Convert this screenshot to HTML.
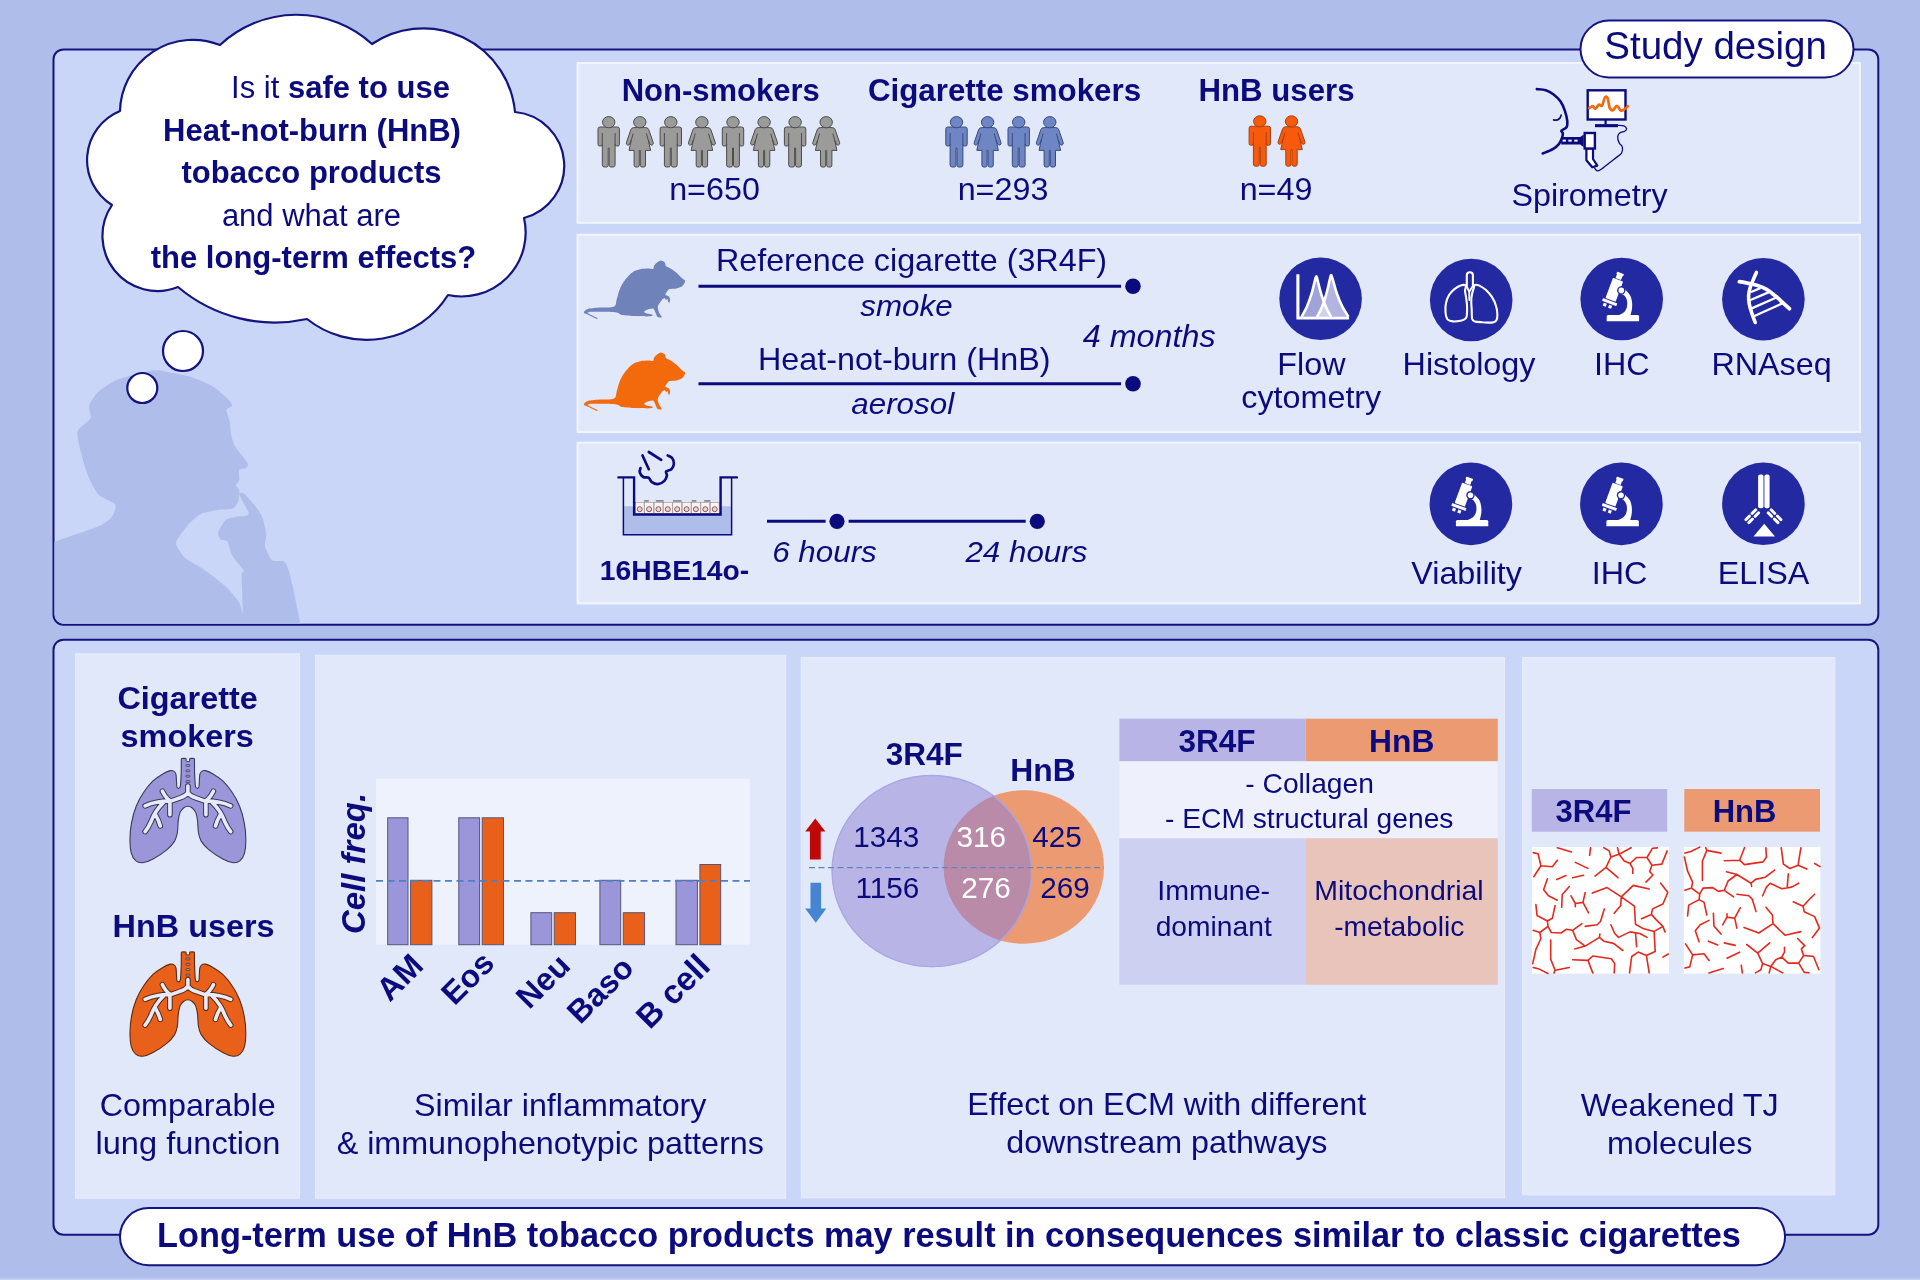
<!DOCTYPE html>
<html><head><meta charset="utf-8"><title>Graphical abstract</title>
<style>
html,body{margin:0;padding:0;background:#aebdea;}
body{width:1920px;height:1280px;overflow:hidden;font-family:"Liberation Sans",sans-serif;}
svg{display:block;will-change:transform;font-family:"Liberation Sans",sans-serif;}
</style></head><body>
<svg width="1920" height="1280" viewBox="0 0 1920 1280">
<rect x="0" y="0" width="1920" height="1280" fill="#aebdea"/>
<rect x="0" y="1278.3" width="1920" height="1.7" fill="#c2cff3"/>
<rect x="53.5" y="49.4" width="1824.8" height="575.3" rx="10" fill="#c9d6f7" stroke="#14147f" stroke-width="2"/>
<rect x="53.5" y="639.7" width="1824.8" height="595" rx="10" fill="#c9d6f7" stroke="#14147f" stroke-width="2"/>
<defs><clipPath id="cp"><rect x="54.5" y="50.4" width="1822.8" height="573.3" rx="9"/></clipPath></defs>
<path d="M40,644.7 C9.1,633.2 38.2,558.3 40,546.3 C41.8,534.2 51.1,543 55.2,541.6 C59.3,540.2 69.8,536.5 75.2,534.6 C80.5,532.6 96.6,527.4 100.9,525.2 C105.3,523 111,518.3 112.7,515.8 C114.3,513.3 116.7,506.5 115,504.1 C113.4,501.6 101.7,498 98.6,494.7 C95.5,491.4 90.1,480.9 88.1,476 C86,471 82.3,457.7 81,452.5 C79.8,447.3 76.4,435.4 77.5,431.4 C78.6,427.5 89,421.5 90.4,418.5 C91.8,415.5 88.3,408.8 89.2,405.6 C90.2,402.5 95.3,394.6 98.6,391.6 C101.9,388.6 111.1,382.3 117.4,379.8 C123.6,377.4 146.2,371.3 152.5,370.5 C158.8,369.7 166.6,372 171.3,372.8 C175.9,373.6 187.4,375.9 192.4,377.5 C197.3,379.1 209.4,384.4 213.5,386.9 C217.6,389.3 225.3,396.4 227.5,398.6 C229.7,400.8 232.4,404.3 232.2,405.6 C232.1,407 226.6,408.4 226.4,410.3 C226.1,412.2 229.3,419.3 229.9,422 C230.4,424.8 230.5,431 231,433.8 C231.6,436.5 232.6,442.1 234.6,445.5 C236.5,448.9 246.1,460.5 247.5,463.1 C248.8,465.7 247.2,466.9 246.3,467.8 C245.3,468.6 240.1,468.6 239.2,470.1 C238.4,471.6 239.7,478.9 239.2,480.6 C238.8,482.4 235.7,484.2 235.7,485.3 C235.7,486.4 239,488.1 239.2,490 C239.5,491.9 238.9,499.6 238.1,501.7 C237.3,503.9 234.5,507.8 232.2,508.8 C229.9,509.7 221.7,509.4 218.2,509.9 C214.6,510.5 205,512 201.7,513.5 C198.5,515 192.5,520.4 190,522.8 C187.6,525.3 182.3,532.1 180.6,534.6 C179,537 175.4,541.2 176,543.9 C176.5,546.7 182.1,555 185.3,558 C188.6,561 199.4,566.4 204.1,569.7 C208.7,573 221.1,582.3 225.2,586.1 C229.3,590 237.2,599.4 239.2,602.5 C241.3,605.7 242.5,616.4 242.8,613.1 C243,609.8 241.5,579.3 241.6,574.4 C241.7,569.5 245,573.1 243.9,570.9 C242.8,568.7 234.1,559.1 232.2,555.7 C230.3,552.2 228.9,543.5 227.5,541.6 C226.2,539.7 221.6,540.3 220.5,539.2 C219.4,538.2 217.6,534.4 218.2,532.2 C218.7,530 223.3,522.3 225.2,520.5 C227.1,518.7 232.1,517.5 234.6,517 C237,516.4 244.6,516.4 246.3,515.8 C247.9,515.3 249.2,514.2 248.6,512.3 C248.1,510.4 242.7,501.6 241.6,499.4 C240.5,497.2 239,494.2 239.2,493.5 C239.5,492.9 242,492 243.9,493.5 C245.9,495 253.5,503.6 255.7,506.4 C257.8,509.3 261.5,514.9 262.7,518.2 C263.9,521.4 265.9,531.3 266.2,534.6 C266.5,537.8 264.4,543.3 265,546.3 C265.7,549.3 269.9,558.6 272.1,560.3 C274.3,562.1 281.9,560.4 283.8,561.5 C285.7,562.6 287.4,566.6 288.5,569.7 C289.6,572.9 291.8,582.3 293.2,588.5 C294.5,594.6 298.8,615.9 300.2,622.5 C301.6,629 335.2,642.1 304.9,644.7 C274.5,647.3 70.9,656.2 40,644.7Z" fill="#aebdea" clip-path="url(#cp)"/>
<rect x="577.6" y="63" width="1282.4" height="159.8" fill="#e1e8fa" stroke="#f2f5fe" stroke-width="2"/>
<rect x="577.6" y="234.7" width="1282.4" height="197.3" fill="#e1e8fa" stroke="#f2f5fe" stroke-width="2"/>
<rect x="577.6" y="442.6" width="1282.4" height="160.8" fill="#e1e8fa" stroke="#f2f5fe" stroke-width="2"/>
<path d="M220,45 A112,112 0 0 1 372,44 A92,92 0 0 1 515,112 A54,54 0 0 1 524,218 A64,64 0 0 1 448,295 A96,96 0 0 1 307,319 A150,150 0 0 1 178,287 A55,55 0 0 1 112,205 A53,53 0 0 1 120,111 A73,73 0 0 1 220,45Z" fill="#fff" stroke="#14147f" stroke-width="2.2" stroke-linejoin="round"/>
<circle cx="183" cy="351" r="20" fill="#fff" stroke="#14147f" stroke-width="2.2"/>
<circle cx="142.3" cy="388" r="15" fill="#fff" stroke="#14147f" stroke-width="2.2"/>
<text x="340.5" y="98" font-size="31" text-anchor="middle" fill="#0b0b7e">Is it <tspan font-weight="bold">safe to use</tspan></text>
<text x="312" y="140.5" font-size="31" font-weight="bold" font-style="normal" text-anchor="middle" fill="#0b0b7e" >Heat-not-burn (HnB)</text>
<text x="311.5" y="183" font-size="31" font-weight="bold" font-style="normal" text-anchor="middle" fill="#0b0b7e" >tobacco products</text>
<text x="311.5" y="225.5" font-size="31" font-weight="normal" font-style="normal" text-anchor="middle" fill="#0b0b7e" >and what are</text>
<text x="313.5" y="268" font-size="31" font-weight="bold" font-style="normal" text-anchor="middle" fill="#0b0b7e" >the long-term effects?</text>
<rect x="1580.5" y="20.5" width="273" height="57" rx="28.5" fill="#fff" stroke="#14147f" stroke-width="2"/>
<text x="1715.6" y="59.4" font-size="38.5" font-weight="normal" font-style="normal" text-anchor="middle" fill="#0b0b7e" >Study design</text>
<text x="720.7" y="101.3" font-size="31" font-weight="bold" font-style="normal" text-anchor="middle" fill="#0b0b7e" >Non-smokers</text>
<text x="1004.5" y="101.3" font-size="31.3" font-weight="bold" font-style="normal" text-anchor="middle" fill="#0b0b7e" >Cigarette smokers</text>
<text x="1276.5" y="101.3" font-size="31.2" font-weight="bold" font-style="normal" text-anchor="middle" fill="#0b0b7e" >HnB users</text>
<text transform="translate(714.5,199.5) scale(1.052,1)" font-size="30.7" font-weight="normal" font-style="normal" text-anchor="middle" fill="#0b0b7e" >n=650</text>
<text transform="translate(1003,199.5) scale(1.052,1)" font-size="30.7" font-weight="normal" font-style="normal" text-anchor="middle" fill="#0b0b7e" >n=293</text>
<text transform="translate(1276,199.5) scale(1.052,1)" font-size="30.7" font-weight="normal" font-style="normal" text-anchor="middle" fill="#0b0b7e" >n=49</text>
<text transform="translate(1589.5,206.3) scale(1.052,1)" font-size="30.7" font-weight="normal" font-style="normal" text-anchor="middle" fill="#0b0b7e" >Spirometry</text>
<text transform="translate(911.5,271) scale(1.052,1)" font-size="30.7" font-weight="normal" font-style="normal" text-anchor="middle" fill="#0b0b7e" >Reference cigarette (3R4F)</text>
<text transform="translate(906.5,316) scale(1.035,1)" font-size="30.3" font-weight="normal" font-style="italic" text-anchor="middle" fill="#0b0b7e" >smoke</text>
<text transform="translate(904.3,369.5) scale(1.052,1)" font-size="30.7" font-weight="normal" font-style="normal" text-anchor="middle" fill="#0b0b7e" >Heat-not-burn (HnB)</text>
<text transform="translate(902.7,414) scale(1.035,1)" font-size="30.3" font-weight="normal" font-style="italic" text-anchor="middle" fill="#0b0b7e" >aerosol</text>
<text transform="translate(1149.2,346.5) scale(1.052,1)" font-size="30.7" font-weight="normal" font-style="italic" text-anchor="middle" fill="#0b0b7e" >4 months</text>
<line x1="698.5" y1="286.3" x2="1121" y2="286.3" stroke="#0b0b7e" stroke-width="3"/>
<circle cx="1133" cy="286.3" r="7.8" fill="#0b0b7e"/>
<line x1="698.5" y1="383.7" x2="1121" y2="383.7" stroke="#0b0b7e" stroke-width="3"/>
<circle cx="1133" cy="383.7" r="7.8" fill="#0b0b7e"/>
<text transform="translate(1311.4,375) scale(1.052,1)" font-size="30.7" font-weight="normal" font-style="normal" text-anchor="middle" fill="#0b0b7e" >Flow</text>
<text transform="translate(1311.3,407.6) scale(1.052,1)" font-size="30.7" font-weight="normal" font-style="normal" text-anchor="middle" fill="#0b0b7e" >cytometry</text>
<text transform="translate(1469,375) scale(1.052,1)" font-size="30.7" font-weight="normal" font-style="normal" text-anchor="middle" fill="#0b0b7e" >Histology</text>
<text transform="translate(1621.8,375) scale(1.052,1)" font-size="30.7" font-weight="normal" font-style="normal" text-anchor="middle" fill="#0b0b7e" >IHC</text>
<text transform="translate(1771.5,375) scale(1.052,1)" font-size="30.7" font-weight="normal" font-style="normal" text-anchor="middle" fill="#0b0b7e" >RNAseq</text>
<text x="674.5" y="580" font-size="28.3" font-weight="bold" font-style="normal" text-anchor="middle" fill="#0b0b7e" >16HBE14o-</text>
<line x1="767" y1="521.3" x2="825.6" y2="521.3" stroke="#0b0b7e" stroke-width="3"/>
<line x1="848.6" y1="521.3" x2="1025.7" y2="521.3" stroke="#0b0b7e" stroke-width="3"/>
<circle cx="837" cy="521.3" r="7.6" fill="#0b0b7e"/>
<circle cx="1037.3" cy="521.3" r="7.6" fill="#0b0b7e"/>
<text transform="translate(824.5,561.6) scale(1.035,1)" font-size="30.3" font-weight="normal" font-style="italic" text-anchor="middle" fill="#0b0b7e" >6 hours</text>
<text transform="translate(1026.4,561.6) scale(1.035,1)" font-size="30.3" font-weight="normal" font-style="italic" text-anchor="middle" fill="#0b0b7e" >24 hours</text>
<text transform="translate(1466.6,583.6) scale(1.052,1)" font-size="30.7" font-weight="normal" font-style="normal" text-anchor="middle" fill="#0b0b7e" >Viability</text>
<text transform="translate(1619.6,583.6) scale(1.052,1)" font-size="30.7" font-weight="normal" font-style="normal" text-anchor="middle" fill="#0b0b7e" >IHC</text>
<text transform="translate(1763.5,583.6) scale(1.052,1)" font-size="30.7" font-weight="normal" font-style="normal" text-anchor="middle" fill="#0b0b7e" >ELISA</text>
<rect x="75.5" y="653.8" width="224" height="544.4" fill="#e1e8fa" stroke="#e8edfc" stroke-width="1"/>
<rect x="315.5" y="655.3" width="470.2" height="542.9" fill="#e1e8fa" stroke="#e8edfc" stroke-width="1"/>
<rect x="801.3" y="657.6" width="703.2" height="540.2" fill="#e1e8fa" stroke="#e8edfc" stroke-width="1"/>
<rect x="1522.6" y="657.6" width="312.3" height="537.3" fill="#e1e8fa" stroke="#e8edfc" stroke-width="1"/>
<text transform="translate(187.6,708.5) scale(1.042,1)" font-size="31.1" font-weight="bold" font-style="normal" text-anchor="middle" fill="#0b0b7e" >Cigarette</text>
<text transform="translate(187.2,746.8) scale(1.042,1)" font-size="31.1" font-weight="bold" font-style="normal" text-anchor="middle" fill="#0b0b7e" >smokers</text>
<text transform="translate(193.6,936.5) scale(1.042,1)" font-size="31.1" font-weight="bold" font-style="normal" text-anchor="middle" fill="#0b0b7e" >HnB users</text>
<text transform="translate(187.7,1116.2) scale(1.052,1)" font-size="30.7" font-weight="normal" font-style="normal" text-anchor="middle" fill="#0b0b7e" >Comparable</text>
<text transform="translate(187.9,1154.3) scale(1.062,1)" font-size="30.7" font-weight="normal" font-style="normal" text-anchor="middle" fill="#0b0b7e" >lung function</text>
<text transform="translate(560.3,1115.9) scale(1.052,1)" font-size="30.7" font-weight="normal" font-style="normal" text-anchor="middle" fill="#0b0b7e" >Similar inflammatory</text>
<text transform="translate(550.2,1154.4) scale(1.052,1)" font-size="30.7" font-weight="normal" font-style="normal" text-anchor="middle" fill="#0b0b7e" >&amp; immunophenotypic patterns</text>
<text transform="translate(1166.8,1114.8) scale(1.052,1)" font-size="30.7" font-weight="normal" font-style="normal" text-anchor="middle" fill="#0b0b7e" >Effect on ECM with different</text>
<text transform="translate(1166.8,1152.9) scale(1.052,1)" font-size="30.7" font-weight="normal" font-style="normal" text-anchor="middle" fill="#0b0b7e" >downstream pathways</text>
<text transform="translate(1679.7,1116.3) scale(1.052,1)" font-size="30.7" font-weight="normal" font-style="normal" text-anchor="middle" fill="#0b0b7e" >Weakened TJ</text>
<text transform="translate(1679.7,1154.4) scale(1.052,1)" font-size="30.7" font-weight="normal" font-style="normal" text-anchor="middle" fill="#0b0b7e" >molecules</text>
<rect x="376" y="778.7" width="373.7" height="166" fill="#eef2fd"/>
<rect x="387.7" y="817.8" width="20.3" height="126.9" fill="#9b95da" stroke="#55557a" stroke-width="1"/>
<rect x="410.6" y="880.3" width="21.3" height="64.4" fill="#e9601a" stroke="#55557a" stroke-width="1"/>
<rect x="458.8" y="817.8" width="20.8" height="126.9" fill="#9b95da" stroke="#55557a" stroke-width="1"/>
<rect x="482.2" y="817.8" width="21.3" height="126.9" fill="#e9601a" stroke="#55557a" stroke-width="1"/>
<rect x="530.9" y="912.7" width="20.8" height="32" fill="#9b95da" stroke="#55557a" stroke-width="1"/>
<rect x="554.2" y="912.7" width="21.3" height="32" fill="#e9601a" stroke="#55557a" stroke-width="1"/>
<rect x="599.9" y="880.3" width="20.8" height="64.4" fill="#9b95da" stroke="#55557a" stroke-width="1"/>
<rect x="623.3" y="912.7" width="21.3" height="32" fill="#e9601a" stroke="#55557a" stroke-width="1"/>
<rect x="676" y="880.3" width="21.4" height="64.4" fill="#9b95da" stroke="#55557a" stroke-width="1"/>
<rect x="699.9" y="864.5" width="20.8" height="80.2" fill="#e9601a" stroke="#55557a" stroke-width="1"/>
<line x1="376" y1="880.9" x2="750" y2="880.9" stroke="#4f7fc4" stroke-width="1.6" stroke-dasharray="7,4.5"/>
<text transform="translate(364.5,863.5) rotate(-90)" font-size="33" font-weight="bold" font-style="italic" text-anchor="middle" fill="#0b0b7e">Cell freq.</text>
<text transform="translate(425,967.5) rotate(-45)" font-size="32" font-weight="bold" text-anchor="end" fill="#0b0b7e">AM</text>
<text transform="translate(496,965) rotate(-45)" font-size="32" font-weight="bold" text-anchor="end" fill="#0b0b7e">Eos</text>
<text transform="translate(572,967.5) rotate(-45)" font-size="32" font-weight="bold" text-anchor="end" fill="#0b0b7e">Neu</text>
<text transform="translate(635.5,970) rotate(-45)" font-size="32" font-weight="bold" text-anchor="end" fill="#0b0b7e">Baso</text>
<text transform="translate(712,968) rotate(-45)" font-size="33" font-weight="bold" text-anchor="end" fill="#0b0b7e">B cell</text>
<defs><clipPath id="cv"><ellipse cx="931.8" cy="871.1" rx="100.2" ry="96.1"/></clipPath></defs>
<ellipse cx="1023.8" cy="867" rx="80.2" ry="76.8" fill="#ec9a72"/>
<ellipse cx="931.8" cy="871.1" rx="100.2" ry="96.1" fill="#b8b5e6"/>
<ellipse cx="1023.8" cy="867" rx="80.2" ry="76.8" fill="#ba8ba8" clip-path="url(#cv)"/>
<ellipse cx="931.8" cy="871.1" rx="99.7" ry="95.6" fill="none" stroke="#aaa6e3" stroke-width="1.3"/>
<line x1="809" y1="867.6" x2="1104" y2="867.6" stroke="#5b86c6" stroke-width="1.3" stroke-dasharray="6,3.5"/>
<text x="924.2" y="765.2" font-size="31.5" font-weight="bold" font-style="normal" text-anchor="middle" fill="#0b0b7e" >3R4F</text>
<text x="1043" y="780.9" font-size="31.8" font-weight="bold" font-style="normal" text-anchor="middle" fill="#0b0b7e" >HnB</text>
<text x="886.2" y="846.5" font-size="29.7" font-weight="normal" font-style="normal" text-anchor="middle" fill="#0b0b7e" >1343</text>
<text x="981.3" y="846.5" font-size="29.7" font-weight="normal" font-style="normal" text-anchor="middle" fill="#fff" >316</text>
<text x="1057" y="846.5" font-size="29.7" font-weight="normal" font-style="normal" text-anchor="middle" fill="#0b0b7e" >425</text>
<text x="887.3" y="898.1" font-size="29.7" font-weight="normal" font-style="normal" text-anchor="middle" fill="#0b0b7e" >1156</text>
<text x="986.1" y="898.1" font-size="29.7" font-weight="normal" font-style="normal" text-anchor="middle" fill="#fff" >276</text>
<text x="1065.1" y="898.1" font-size="29.7" font-weight="normal" font-style="normal" text-anchor="middle" fill="#0b0b7e" >269</text>
<path d="M815.3,818.4 L825.4,831.5 L820.7,831.5 L820.7,859.4 L809.9,859.4 L809.9,831.5 L805.2,831.5Z" fill="#c00808"/>
<path d="M815.8,922.8 L826.3,908.6 L821.1,908.6 L821.1,882.8 L810.5,882.8 L810.5,908.6 L805.2,908.6Z" fill="#4585d2"/>
<rect x="1119.4" y="718.7" width="186.3" height="42.7" fill="#b8b5e6"/>
<rect x="1305.7" y="718.7" width="192.1" height="42.7" fill="#ec9a72"/>
<rect x="1119.4" y="761.4" width="378.4" height="76.9" fill="#eef1fc"/>
<rect x="1119.4" y="838.3" width="186.3" height="146.4" fill="#cdd0f0"/>
<rect x="1305.7" y="838.3" width="192.1" height="146.4" fill="#e9c4ba"/>
<text x="1216.9" y="752" font-size="31.5" font-weight="bold" font-style="normal" text-anchor="middle" fill="#0b0b7e" >3R4F</text>
<text x="1401.8" y="752" font-size="31.8" font-weight="bold" font-style="normal" text-anchor="middle" fill="#0b0b7e" >HnB</text>
<text transform="translate(1309.6,793.3) scale(1.045,1)" font-size="27" font-weight="normal" font-style="normal" text-anchor="middle" fill="#0b0b7e" >- Collagen</text>
<text transform="translate(1309.2,827.7) scale(1.045,1)" font-size="27" font-weight="normal" font-style="normal" text-anchor="middle" fill="#0b0b7e" >- ECM structural genes</text>
<text transform="translate(1213.7,900.4) scale(1.06,1)" font-size="27" font-weight="normal" font-style="normal" text-anchor="middle" fill="#0b0b7e" >Immune-</text>
<text transform="translate(1213.7,935.5) scale(1.045,1)" font-size="27" font-weight="normal" font-style="normal" text-anchor="middle" fill="#0b0b7e" >dominant</text>
<text transform="translate(1399,900.4) scale(1.055,1)" font-size="27" font-weight="normal" font-style="normal" text-anchor="middle" fill="#0b0b7e" >Mitochondrial</text>
<text transform="translate(1399.2,935.5) scale(1.045,1)" font-size="27" font-weight="normal" font-style="normal" text-anchor="middle" fill="#0b0b7e" >-metabolic</text>
<rect x="1531.8" y="789" width="135.4" height="42.7" fill="#b8b5e6"/>
<rect x="1684.3" y="789" width="135.7" height="42.7" fill="#ec9a72"/>
<text x="1593.5" y="822" font-size="31" font-weight="bold" font-style="normal" text-anchor="middle" fill="#0b0b7e" >3R4F</text>
<text x="1744.5" y="822" font-size="31" font-weight="bold" font-style="normal" text-anchor="middle" fill="#0b0b7e" >HnB</text>
<rect x="1532" y="847" width="137" height="126.6" fill="#fff"/>
<rect x="1683.8" y="847" width="136.6" height="126.6" fill="#fff"/>
<path d="M1533.2,852.6 L1538.1,853.7 L1540.9,865.7 L1533.8,876.7 M1540.9,865.7 L1552.4,866.8 L1557.3,860.2 M1557.3,847.7 L1571.5,852 M1590.6,847.7 L1589.6,855.3 M1575.3,862.4 L1587.9,868.4 M1556.7,879.4 L1566,875.6 M1572.6,877.7 L1583.5,875.2 M1547.4,878.8 L1543.6,889.8 L1548.5,895.8 L1557.3,900.2 M1569.3,886.5 L1562.2,894.7 L1561.7,907.3 M1571,895.8 L1575.3,903.5 L1575.3,906.7 M1575.3,903.5 L1583,902.4 L1585.2,892.5 M1583,902.4 L1588.5,912.8 M1603.8,847.7 L1609.2,850.9 L1610.9,857 L1606,867.4 L1595,876.1 M1606,867.4 L1618,877.7 M1610.9,857 L1619.1,854.2 L1631.1,847.7 M1617.5,847.7 L1619.1,854.2 L1624,860.8 L1630,863.5 L1632.8,868.4 L1632.8,873.4 M1630,863.5 L1636.6,857.5 L1647,857.5 L1652.5,848.2 L1657.4,847.9 M1647,857.5 L1651.9,865.2 L1661.8,864.1 L1667.2,850.9 M1651.9,865.2 L1649.7,871.7 L1653,875 L1645.9,882.1 M1592.3,893.1 L1607.1,887.6 L1621.3,896.9 L1633.3,885.4 L1649.2,889 M1621.3,896.9 L1620.7,905.6 L1614.2,913.3 M1660.7,883.2 L1667.8,892.5 L1662.9,904 L1652.5,908.9 L1651.4,914.4 L1641.5,918.8 M1651.4,914.4 L1656.3,919.9 L1662.9,926.4 M1655.2,951.6 L1646.4,955.4 L1638.2,952.1 L1631.7,956.5 L1629.5,972.9 M1646.4,955.4 L1649.2,972.9 M1535.9,904.6 L1537,915.5 L1547.4,921 L1552.4,918.2 L1555.1,905.6 M1547.4,921 L1548,926.4 L1551.3,932.5 L1561.1,933 L1566.6,929.2 L1572.6,930.3 L1581.9,923.7 M1572.6,930.3 L1576.4,939.6 L1585.2,946.1 L1574.8,948.9 M1585.2,946.1 L1599.4,937.4 L1599.9,934.1 M1599.4,937.4 L1603.8,941.2 L1613.6,943.4 L1622.9,950.5 M1548,926.4 L1539.8,932.5 L1533.2,930.3 M1539.8,932.5 L1540.9,938.5 L1535.9,949.4 L1532.7,963.6 M1550.7,940.1 L1550.7,959.3 L1555.1,970.2 L1569.3,967.5 M1555.1,970.2 L1554,972.9 M1533.2,967.5 L1539.2,969.1 L1548,973.5 M1572.6,959.8 L1587.9,960.4 L1592.8,956 L1611.4,958.7 L1614.7,963.6 L1614.2,972.9 M1587.9,960.4 L1592.8,972.9 M1585.2,926.4 L1597.2,924.8 L1600.5,921.5 L1604.3,909.1 M1610.9,924.8 L1614.7,933.5 L1618.5,937.4 L1630,931.9 L1639.9,933.5 L1647,937.4 M1635.5,933 L1636.6,946.7 M1662.9,957.1 L1668.3,954 M1621.3,896.9 L1634.4,906.2 L1635.5,924.2 L1643.2,928.6 L1654.1,931.4 L1662.9,926.4 L1665,931.9 M1654.1,931.4 L1655.2,951.6" fill="none" stroke="#e5281d" stroke-width="1.6" stroke-linecap="round" stroke-linejoin="round"/>
<path d="M1533.2,852.6 L1538.1,853.7 L1540.9,865.7 L1533.8,876.7 M1540.9,865.7 L1552.4,866.8 L1557.3,860.2 M1557.3,847.7 L1571.5,852 M1590.6,847.7 L1589.6,855.3 M1575.3,862.4 L1587.9,868.4 M1556.7,879.4 L1566,875.6 M1572.6,877.7 L1583.5,875.2 M1547.4,878.8 L1543.6,889.8 L1548.5,895.8 L1557.3,900.2 M1569.3,886.5 L1562.2,894.7 L1561.7,907.3 M1571,895.8 L1575.3,903.5 L1575.3,906.7 M1575.3,903.5 L1583,902.4 L1585.2,892.5 M1583,902.4 L1588.5,912.8 M1603.8,847.7 L1609.2,850.9 L1610.9,857 L1606,867.4 L1595,876.1 M1606,867.4 L1618,877.7 M1610.9,857 L1619.1,854.2 L1631.1,847.7 M1617.5,847.7 L1619.1,854.2 L1624,860.8 L1630,863.5 L1632.8,868.4 L1632.8,873.4 M1630,863.5 L1636.6,857.5 L1647,857.5 L1652.5,848.2 L1657.4,847.9 M1647,857.5 L1651.9,865.2 L1661.8,864.1 L1667.2,850.9 M1651.9,865.2 L1649.7,871.7 L1653,875 L1645.9,882.1 M1592.3,893.1 L1607.1,887.6 L1621.3,896.9 L1633.3,885.4 L1649.2,889 M1621.3,896.9 L1620.7,905.6 L1614.2,913.3 M1660.7,883.2 L1667.8,892.5 L1662.9,904 L1652.5,908.9 L1651.4,914.4 L1641.5,918.8 M1651.4,914.4 L1656.3,919.9 L1662.9,926.4 M1655.2,951.6 L1646.4,955.4 L1638.2,952.1 L1631.7,956.5 L1629.5,972.9 M1646.4,955.4 L1649.2,972.9 M1535.9,904.6 L1537,915.5 L1547.4,921 L1552.4,918.2 L1555.1,905.6 M1547.4,921 L1548,926.4 L1551.3,932.5 L1561.1,933 L1566.6,929.2 L1572.6,930.3 L1581.9,923.7 M1572.6,930.3 L1576.4,939.6 L1585.2,946.1 L1574.8,948.9 M1585.2,946.1 L1599.4,937.4 L1599.9,934.1 M1599.4,937.4 L1603.8,941.2 L1613.6,943.4 L1622.9,950.5 M1548,926.4 L1539.8,932.5 L1533.2,930.3 M1539.8,932.5 L1540.9,938.5 L1535.9,949.4 L1532.7,963.6 M1550.7,940.1 L1550.7,959.3 L1555.1,970.2 L1569.3,967.5 M1555.1,970.2 L1554,972.9 M1533.2,967.5 L1539.2,969.1 L1548,973.5 M1572.6,959.8 L1587.9,960.4 L1592.8,956 L1611.4,958.7 L1614.7,963.6 L1614.2,972.9 M1587.9,960.4 L1592.8,972.9 M1585.2,926.4 L1597.2,924.8 L1600.5,921.5 L1604.3,909.1 M1610.9,924.8 L1614.7,933.5 L1618.5,937.4 L1630,931.9 L1639.9,933.5 L1647,937.4 M1635.5,933 L1636.6,946.7 M1662.9,957.1 L1668.3,954" fill="none" stroke="#e5281d" stroke-width="1.6" stroke-linecap="round" stroke-linejoin="round" transform="translate(151.7,1820.6) scale(1,-1)"/>
<rect x="120" y="1208.1" width="1665" height="57.1" rx="28.5" fill="#fff" stroke="#14147f" stroke-width="2"/>
<text x="949" y="1246.6" font-size="34.3" font-weight="bold" font-style="normal" text-anchor="middle" fill="#0b0b7e" >Long-term use of HnB tobacco products may result in consequences similar to classic cigarettes</text>
<g transform="translate(608.7,0)" fill="#9b9b99" stroke="#4d4d4d" stroke-width="1" stroke-linejoin="round"><path d="M-10.7,129 Q-10.7,127 -8.7,127 L8.7,127 Q10.7,127 10.7,129 L10.7,144.3 Q10.7,146 9.2,146 L7.8,146 Q6.4,146 6.4,144.5 L6.4,164.8 Q6.4,167 4.4,167 L2.2,167 Q0.5,167 0.5,165.3 L0.5,148 L-0.5,148 L-0.5,165.3 Q-0.5,167 -2.2,167 L-4.4,167 Q-6.4,167 -6.4,164.8 L-6.4,144.5 Q-6.4,146 -7.8,146 L-9.2,146 Q-10.7,146 -10.7,144.3Z M6.4,133 L6.4,145 M-6.4,133 L-6.4,145"/><ellipse cx="0" cy="122.2" rx="6.2" ry="5.6"/></g>
<g transform="translate(639.8,0)" fill="#9b9b99" stroke="#4d4d4d" stroke-width="1" stroke-linejoin="round"><path d="M-6,127.6 L6,127.6 Q8.2,127.6 9,129.8 L13.4,142.6 Q13.9,144.4 12.4,145 Q10.9,145.5 10.1,144 L8.4,139.8 L10.8,150.4 L5.7,150.4 L5.7,165 Q5.7,167 4,167 L2.2,167 Q0.5,167 0.5,165.3 L0.5,150.4 L-0.5,150.4 L-0.5,165.3 Q-0.5,167 -2.2,167 L-4,167 Q-5.7,167 -5.7,165 L-5.7,150.4 L-10.8,150.4 L-8.4,139.8 L-10.1,144 Q-10.9,145.5 -12.4,145 Q-13.9,144.4 -13.4,142.6 L-9,129.8 Q-8.2,127.6 -6,127.6Z M8.4,139.8 L6.6,133.5 M-8.4,139.8 L-6.6,133.5"/><ellipse cx="0" cy="122.2" rx="6.2" ry="5.6"/></g>
<g transform="translate(670.8,0)" fill="#9b9b99" stroke="#4d4d4d" stroke-width="1" stroke-linejoin="round"><path d="M-10.7,129 Q-10.7,127 -8.7,127 L8.7,127 Q10.7,127 10.7,129 L10.7,144.3 Q10.7,146 9.2,146 L7.8,146 Q6.4,146 6.4,144.5 L6.4,164.8 Q6.4,167 4.4,167 L2.2,167 Q0.5,167 0.5,165.3 L0.5,148 L-0.5,148 L-0.5,165.3 Q-0.5,167 -2.2,167 L-4.4,167 Q-6.4,167 -6.4,164.8 L-6.4,144.5 Q-6.4,146 -7.8,146 L-9.2,146 Q-10.7,146 -10.7,144.3Z M6.4,133 L6.4,145 M-6.4,133 L-6.4,145"/><ellipse cx="0" cy="122.2" rx="6.2" ry="5.6"/></g>
<g transform="translate(701.9,0)" fill="#9b9b99" stroke="#4d4d4d" stroke-width="1" stroke-linejoin="round"><path d="M-6,127.6 L6,127.6 Q8.2,127.6 9,129.8 L13.4,142.6 Q13.9,144.4 12.4,145 Q10.9,145.5 10.1,144 L8.4,139.8 L10.8,150.4 L5.7,150.4 L5.7,165 Q5.7,167 4,167 L2.2,167 Q0.5,167 0.5,165.3 L0.5,150.4 L-0.5,150.4 L-0.5,165.3 Q-0.5,167 -2.2,167 L-4,167 Q-5.7,167 -5.7,165 L-5.7,150.4 L-10.8,150.4 L-8.4,139.8 L-10.1,144 Q-10.9,145.5 -12.4,145 Q-13.9,144.4 -13.4,142.6 L-9,129.8 Q-8.2,127.6 -6,127.6Z M8.4,139.8 L6.6,133.5 M-8.4,139.8 L-6.6,133.5"/><ellipse cx="0" cy="122.2" rx="6.2" ry="5.6"/></g>
<g transform="translate(733,0)" fill="#9b9b99" stroke="#4d4d4d" stroke-width="1" stroke-linejoin="round"><path d="M-10.7,129 Q-10.7,127 -8.7,127 L8.7,127 Q10.7,127 10.7,129 L10.7,144.3 Q10.7,146 9.2,146 L7.8,146 Q6.4,146 6.4,144.5 L6.4,164.8 Q6.4,167 4.4,167 L2.2,167 Q0.5,167 0.5,165.3 L0.5,148 L-0.5,148 L-0.5,165.3 Q-0.5,167 -2.2,167 L-4.4,167 Q-6.4,167 -6.4,164.8 L-6.4,144.5 Q-6.4,146 -7.8,146 L-9.2,146 Q-10.7,146 -10.7,144.3Z M6.4,133 L6.4,145 M-6.4,133 L-6.4,145"/><ellipse cx="0" cy="122.2" rx="6.2" ry="5.6"/></g>
<g transform="translate(764.1,0)" fill="#9b9b99" stroke="#4d4d4d" stroke-width="1" stroke-linejoin="round"><path d="M-6,127.6 L6,127.6 Q8.2,127.6 9,129.8 L13.4,142.6 Q13.9,144.4 12.4,145 Q10.9,145.5 10.1,144 L8.4,139.8 L10.8,150.4 L5.7,150.4 L5.7,165 Q5.7,167 4,167 L2.2,167 Q0.5,167 0.5,165.3 L0.5,150.4 L-0.5,150.4 L-0.5,165.3 Q-0.5,167 -2.2,167 L-4,167 Q-5.7,167 -5.7,165 L-5.7,150.4 L-10.8,150.4 L-8.4,139.8 L-10.1,144 Q-10.9,145.5 -12.4,145 Q-13.9,144.4 -13.4,142.6 L-9,129.8 Q-8.2,127.6 -6,127.6Z M8.4,139.8 L6.6,133.5 M-8.4,139.8 L-6.6,133.5"/><ellipse cx="0" cy="122.2" rx="6.2" ry="5.6"/></g>
<g transform="translate(795.1,0)" fill="#9b9b99" stroke="#4d4d4d" stroke-width="1" stroke-linejoin="round"><path d="M-10.7,129 Q-10.7,127 -8.7,127 L8.7,127 Q10.7,127 10.7,129 L10.7,144.3 Q10.7,146 9.2,146 L7.8,146 Q6.4,146 6.4,144.5 L6.4,164.8 Q6.4,167 4.4,167 L2.2,167 Q0.5,167 0.5,165.3 L0.5,148 L-0.5,148 L-0.5,165.3 Q-0.5,167 -2.2,167 L-4.4,167 Q-6.4,167 -6.4,164.8 L-6.4,144.5 Q-6.4,146 -7.8,146 L-9.2,146 Q-10.7,146 -10.7,144.3Z M6.4,133 L6.4,145 M-6.4,133 L-6.4,145"/><ellipse cx="0" cy="122.2" rx="6.2" ry="5.6"/></g>
<g transform="translate(826.2,0)" fill="#9b9b99" stroke="#4d4d4d" stroke-width="1" stroke-linejoin="round"><path d="M-6,127.6 L6,127.6 Q8.2,127.6 9,129.8 L13.4,142.6 Q13.9,144.4 12.4,145 Q10.9,145.5 10.1,144 L8.4,139.8 L10.8,150.4 L5.7,150.4 L5.7,165 Q5.7,167 4,167 L2.2,167 Q0.5,167 0.5,165.3 L0.5,150.4 L-0.5,150.4 L-0.5,165.3 Q-0.5,167 -2.2,167 L-4,167 Q-5.7,167 -5.7,165 L-5.7,150.4 L-10.8,150.4 L-8.4,139.8 L-10.1,144 Q-10.9,145.5 -12.4,145 Q-13.9,144.4 -13.4,142.6 L-9,129.8 Q-8.2,127.6 -6,127.6Z M8.4,139.8 L6.6,133.5 M-8.4,139.8 L-6.6,133.5"/><ellipse cx="0" cy="122.2" rx="6.2" ry="5.6"/></g>
<g transform="translate(956.5,0)" fill="#6e86c3" stroke="#3a4a80" stroke-width="1" stroke-linejoin="round"><path d="M-10.7,129 Q-10.7,127 -8.7,127 L8.7,127 Q10.7,127 10.7,129 L10.7,144.3 Q10.7,146 9.2,146 L7.8,146 Q6.4,146 6.4,144.5 L6.4,164.8 Q6.4,167 4.4,167 L2.2,167 Q0.5,167 0.5,165.3 L0.5,148 L-0.5,148 L-0.5,165.3 Q-0.5,167 -2.2,167 L-4.4,167 Q-6.4,167 -6.4,164.8 L-6.4,144.5 Q-6.4,146 -7.8,146 L-9.2,146 Q-10.7,146 -10.7,144.3Z M6.4,133 L6.4,145 M-6.4,133 L-6.4,145"/><ellipse cx="0" cy="122.2" rx="6.2" ry="5.6"/></g>
<g transform="translate(987.6,0)" fill="#6e86c3" stroke="#3a4a80" stroke-width="1" stroke-linejoin="round"><path d="M-6,127.6 L6,127.6 Q8.2,127.6 9,129.8 L13.4,142.6 Q13.9,144.4 12.4,145 Q10.9,145.5 10.1,144 L8.4,139.8 L10.8,150.4 L5.7,150.4 L5.7,165 Q5.7,167 4,167 L2.2,167 Q0.5,167 0.5,165.3 L0.5,150.4 L-0.5,150.4 L-0.5,165.3 Q-0.5,167 -2.2,167 L-4,167 Q-5.7,167 -5.7,165 L-5.7,150.4 L-10.8,150.4 L-8.4,139.8 L-10.1,144 Q-10.9,145.5 -12.4,145 Q-13.9,144.4 -13.4,142.6 L-9,129.8 Q-8.2,127.6 -6,127.6Z M8.4,139.8 L6.6,133.5 M-8.4,139.8 L-6.6,133.5"/><ellipse cx="0" cy="122.2" rx="6.2" ry="5.6"/></g>
<g transform="translate(1018.7,0)" fill="#6e86c3" stroke="#3a4a80" stroke-width="1" stroke-linejoin="round"><path d="M-10.7,129 Q-10.7,127 -8.7,127 L8.7,127 Q10.7,127 10.7,129 L10.7,144.3 Q10.7,146 9.2,146 L7.8,146 Q6.4,146 6.4,144.5 L6.4,164.8 Q6.4,167 4.4,167 L2.2,167 Q0.5,167 0.5,165.3 L0.5,148 L-0.5,148 L-0.5,165.3 Q-0.5,167 -2.2,167 L-4.4,167 Q-6.4,167 -6.4,164.8 L-6.4,144.5 Q-6.4,146 -7.8,146 L-9.2,146 Q-10.7,146 -10.7,144.3Z M6.4,133 L6.4,145 M-6.4,133 L-6.4,145"/><ellipse cx="0" cy="122.2" rx="6.2" ry="5.6"/></g>
<g transform="translate(1049.8,0)" fill="#6e86c3" stroke="#3a4a80" stroke-width="1" stroke-linejoin="round"><path d="M-6,127.6 L6,127.6 Q8.2,127.6 9,129.8 L13.4,142.6 Q13.9,144.4 12.4,145 Q10.9,145.5 10.1,144 L8.4,139.8 L10.8,150.4 L5.7,150.4 L5.7,165 Q5.7,167 4,167 L2.2,167 Q0.5,167 0.5,165.3 L0.5,150.4 L-0.5,150.4 L-0.5,165.3 Q-0.5,167 -2.2,167 L-4,167 Q-5.7,167 -5.7,165 L-5.7,150.4 L-10.8,150.4 L-8.4,139.8 L-10.1,144 Q-10.9,145.5 -12.4,145 Q-13.9,144.4 -13.4,142.6 L-9,129.8 Q-8.2,127.6 -6,127.6Z M8.4,139.8 L6.6,133.5 M-8.4,139.8 L-6.6,133.5"/><ellipse cx="0" cy="122.2" rx="6.2" ry="5.6"/></g>
<g transform="translate(1259.8,-0.8)" fill="#f85a0d" stroke="#a8400c" stroke-width="1" stroke-linejoin="round"><path d="M-10.7,129 Q-10.7,127 -8.7,127 L8.7,127 Q10.7,127 10.7,129 L10.7,144.3 Q10.7,146 9.2,146 L7.8,146 Q6.4,146 6.4,144.5 L6.4,164.8 Q6.4,167 4.4,167 L2.2,167 Q0.5,167 0.5,165.3 L0.5,148 L-0.5,148 L-0.5,165.3 Q-0.5,167 -2.2,167 L-4.4,167 Q-6.4,167 -6.4,164.8 L-6.4,144.5 Q-6.4,146 -7.8,146 L-9.2,146 Q-10.7,146 -10.7,144.3Z M6.4,133 L6.4,145 M-6.4,133 L-6.4,145"/><ellipse cx="0" cy="122.2" rx="6.2" ry="5.6"/></g>
<g transform="translate(1291.5,-0.8)" fill="#f85a0d" stroke="#a8400c" stroke-width="1" stroke-linejoin="round"><path d="M-6,127.6 L6,127.6 Q8.2,127.6 9,129.8 L13.4,142.6 Q13.9,144.4 12.4,145 Q10.9,145.5 10.1,144 L8.4,139.8 L10.8,150.4 L5.7,150.4 L5.7,165 Q5.7,167 4,167 L2.2,167 Q0.5,167 0.5,165.3 L0.5,150.4 L-0.5,150.4 L-0.5,165.3 Q-0.5,167 -2.2,167 L-4,167 Q-5.7,167 -5.7,165 L-5.7,150.4 L-10.8,150.4 L-8.4,139.8 L-10.1,144 Q-10.9,145.5 -12.4,145 Q-13.9,144.4 -13.4,142.6 L-9,129.8 Q-8.2,127.6 -6,127.6Z M8.4,139.8 L6.6,133.5 M-8.4,139.8 L-6.6,133.5"/><ellipse cx="0" cy="122.2" rx="6.2" ry="5.6"/></g>
<path d="M597.1,318.7 C597.2,318.8 590.3,315.1 588.7,314.5 C587,313.8 585.4,313.8 584.8,313.5 C584.1,313.1 583.6,312.5 584,311.8 C584.4,311.2 585.7,309.5 588,308.9 C590.3,308.4 597.9,307.8 601,307.6 C604.2,307.4 609.5,307.6 611.5,307.3 C613.4,307 614.7,306.4 615.4,305.3 C616.1,304.3 616.1,301.5 616.7,299.5 C617.2,297.5 618.4,292.6 619.3,290.4 C620.1,288.1 622,284.5 623.2,282.6 C624.4,280.6 627,277.5 628.4,276 C629.8,274.6 632,272.4 633.6,271.5 C635.2,270.6 638.2,269.6 640.1,269.2 C642,268.8 646.2,268.6 647.9,268.6 C649.7,268.5 652.3,269.3 653.1,268.9 C653.9,268.5 653.6,266.5 654.1,265.6 C654.6,264.8 656.1,263.1 657,262.4 C657.9,261.7 659.9,260.4 660.9,260.4 C662,260.4 664.1,261.6 664.8,262.4 C665.5,263.2 665.3,265.4 666.1,266.3 C667,267.1 670,268 671.4,268.9 C672.7,269.7 675.2,271.6 676.6,272.8 C678,274 680.6,277 681.8,278 C682.9,279 684.7,279.9 685,280.6 C685.4,281.3 684.8,282.4 684.4,283.2 C683.9,284 682.8,285.8 681.8,286.5 C680.7,287.2 678.2,288.1 676.6,288.4 C674.9,288.8 670.8,288.5 669.4,289.1 C668,289.7 666.7,292.2 666.1,293 C665.6,293.8 665.1,294.5 665.5,294.9 C665.8,295.4 668.1,295.6 668.8,296.2 C669.4,296.8 670,298.6 670.1,299.5 C670.1,300.3 669.7,302.5 669.4,302.7 C669.1,303 668.4,302 668.1,301.4 C667.8,300.9 667.7,299 667.4,298.8 C667.2,298.7 666.5,300.2 666.1,300.1 C665.8,300 665.4,298.3 664.8,298.2 C664.3,298.1 663,298.7 662.2,299.5 C661.5,300.3 659.6,303 659,304 C658.4,305.1 657.7,306.2 657.7,307.3 C657.7,308.4 658.5,311.3 659,312.5 C659.5,313.7 661.3,315.8 661.6,316.4 C661.8,317.1 661.5,317.3 660.9,317.4 C660.4,317.5 658.4,317.6 657.7,317.1 C657,316.5 656.3,314.3 655.7,313.2 C655.1,312 654.3,309 653.1,308.6 C651.9,308.2 647.8,309.5 646.6,309.9 C645.4,310.3 644,311.4 644,311.8 C644,312.3 645.6,313.1 646.6,313.5 C647.7,313.8 651,314.1 651.8,314.5 C652.6,314.8 653.2,315.5 652.5,315.8 C651.8,316 649.1,316.4 646.6,316.4 C644.1,316.4 636.9,316.3 633.6,316.1 C630.3,315.9 624.1,315.6 621.9,315.1 C619.6,314.6 619.4,312.9 616.7,312.5 C613.9,312.1 604.6,311.9 601,311.8 C597.5,311.8 591.7,311.6 590,311.8 C588.2,312.1 587.1,312.6 588,313.5 C589,314.4 597,318.6 597.1,318.7Z" fill="#6f82ba"/>
<path d="M597.1,318.7 C597.2,318.8 590.3,315.1 588.7,314.5 C587,313.8 585.4,313.8 584.8,313.5 C584.1,313.1 583.6,312.5 584,311.8 C584.4,311.2 585.7,309.5 588,308.9 C590.3,308.4 597.9,307.8 601,307.6 C604.2,307.4 609.5,307.6 611.5,307.3 C613.4,307 614.7,306.4 615.4,305.3 C616.1,304.3 616.1,301.5 616.7,299.5 C617.2,297.5 618.4,292.6 619.3,290.4 C620.1,288.1 622,284.5 623.2,282.6 C624.4,280.6 627,277.5 628.4,276 C629.8,274.6 632,272.4 633.6,271.5 C635.2,270.6 638.2,269.6 640.1,269.2 C642,268.8 646.2,268.6 647.9,268.6 C649.7,268.5 652.3,269.3 653.1,268.9 C653.9,268.5 653.6,266.5 654.1,265.6 C654.6,264.8 656.1,263.1 657,262.4 C657.9,261.7 659.9,260.4 660.9,260.4 C662,260.4 664.1,261.6 664.8,262.4 C665.5,263.2 665.3,265.4 666.1,266.3 C667,267.1 670,268 671.4,268.9 C672.7,269.7 675.2,271.6 676.6,272.8 C678,274 680.6,277 681.8,278 C682.9,279 684.7,279.9 685,280.6 C685.4,281.3 684.8,282.4 684.4,283.2 C683.9,284 682.8,285.8 681.8,286.5 C680.7,287.2 678.2,288.1 676.6,288.4 C674.9,288.8 670.8,288.5 669.4,289.1 C668,289.7 666.7,292.2 666.1,293 C665.6,293.8 665.1,294.5 665.5,294.9 C665.8,295.4 668.1,295.6 668.8,296.2 C669.4,296.8 670,298.6 670.1,299.5 C670.1,300.3 669.7,302.5 669.4,302.7 C669.1,303 668.4,302 668.1,301.4 C667.8,300.9 667.7,299 667.4,298.8 C667.2,298.7 666.5,300.2 666.1,300.1 C665.8,300 665.4,298.3 664.8,298.2 C664.3,298.1 663,298.7 662.2,299.5 C661.5,300.3 659.6,303 659,304 C658.4,305.1 657.7,306.2 657.7,307.3 C657.7,308.4 658.5,311.3 659,312.5 C659.5,313.7 661.3,315.8 661.6,316.4 C661.8,317.1 661.5,317.3 660.9,317.4 C660.4,317.5 658.4,317.6 657.7,317.1 C657,316.5 656.3,314.3 655.7,313.2 C655.1,312 654.3,309 653.1,308.6 C651.9,308.2 647.8,309.5 646.6,309.9 C645.4,310.3 644,311.4 644,311.8 C644,312.3 645.6,313.1 646.6,313.5 C647.7,313.8 651,314.1 651.8,314.5 C652.6,314.8 653.2,315.5 652.5,315.8 C651.8,316 649.1,316.4 646.6,316.4 C644.1,316.4 636.9,316.3 633.6,316.1 C630.3,315.9 624.1,315.6 621.9,315.1 C619.6,314.6 619.4,312.9 616.7,312.5 C613.9,312.1 604.6,311.9 601,311.8 C597.5,311.8 591.7,311.6 590,311.8 C588.2,312.1 587.1,312.6 588,313.5 C589,314.4 597,318.6 597.1,318.7Z" fill="#f26a0c" transform="translate(0,92)"/>
<line x1="584.8" y1="312.6" x2="597.1" y2="318.5" stroke="#6f82ba" stroke-width="1.1" stroke-linecap="round"/>
<line x1="584.8" y1="404.6" x2="597.1" y2="410.5" stroke="#f26a0c" stroke-width="1.1" stroke-linecap="round"/>
<path d="M1536.8,89.1 C1538.3,89.3 1543,89.3 1545.8,90.2 C1548.6,91.1 1551.1,92.6 1553.6,94.5 C1556.1,96.4 1558.7,98.8 1560.6,101.6 C1562.5,104.3 1563.8,107.7 1564.9,110.9 C1566,114.2 1567,118.4 1567.3,121.1 C1567.5,123.8 1567.5,125.8 1566.5,127.3 C1565.5,128.9 1562,129.6 1561.4,130.6 C1560.8,131.6 1562.7,132.1 1562.8,133.2 C1562.9,134.3 1562.8,135.7 1562.2,137.5 C1561.6,139.3 1560.6,141.8 1559.1,143.8 C1557.5,145.7 1555.5,147.6 1552.8,149.2 C1550.1,150.8 1544.3,152.8 1542.7,153.5" fill="none" stroke="#0b0b7e" stroke-width="2.6" stroke-linecap="round" stroke-linejoin="round"/>
<path d="M1553.6,119.9 Q1559.8,121.2 1561.2,115" fill="none" stroke="#0b0b7e" stroke-width="1.6" stroke-linecap="round"/>
<path d="M1561.2,136.9 L1580.2,136.9 L1583.7,134.4 L1583.7,147.3 L1580.2,144.5 L1561.2,144.5Z" fill="#0b0b7e"/>
<rect x="1562.6" y="139.7" width="3.3" height="1.9" fill="#fff"/>
<rect x="1568.4" y="139.7" width="3.3" height="1.9" fill="#fff"/>
<rect x="1574.3" y="139.7" width="3.3" height="1.9" fill="#fff"/>
<path d="M1586.4,148.4 L1586.4,160.2 L1592.3,167.2 L1597.3,165.6 L1593,159 L1593,148.4Z" fill="#fff" stroke="#0b0b7e" stroke-width="2.2" stroke-linejoin="round"/>
<rect x="1584.7" y="133" width="10.2" height="15.5" fill="#fff" stroke="#0b0b7e" stroke-width="2.4"/>
<rect x="1587.7" y="90.3" width="37.8" height="29.2" fill="#fff" stroke="#0b0b7e" stroke-width="2.4"/>
<rect x="1604.5" y="119.5" width="2.2" height="5.1" fill="#0b0b7e"/>
<rect x="1595" y="124.1" width="23" height="3.1" fill="#0b0b7e"/>
<path d="M1589.1,108.2 C1589.7,107.9 1591.6,106.2 1592.7,106.2 C1593.7,106.3 1594.3,108.9 1595.4,108.6 C1596.4,108.3 1597.8,105.2 1598.9,104.7 C1600,104.2 1601.1,106.8 1602,105.6 C1603,104.5 1603.9,99 1604.8,97.7 C1605.7,96.4 1606.7,96.1 1607.5,97.8 C1608.3,99.6 1608.9,106.1 1609.8,108.2 C1610.8,110.3 1611.8,110.7 1613,110.3 C1614.1,109.9 1615.6,105.8 1616.9,105.9 C1618.2,105.9 1619.5,110 1620.8,110.5 C1622,111.1 1623.1,110.1 1624.3,109.4 C1625.5,108.7 1627.2,106.8 1627.8,106.2" fill="none" stroke="#f26a0c" stroke-width="2.7" stroke-linecap="round" stroke-linejoin="round"/>
<path d="M1617.7,125.4 C1618.7,125.5 1622.4,125.2 1623.9,125.8 C1625.4,126.4 1626.5,128 1626.6,128.9 C1626.8,129.8 1625.8,130.6 1624.7,131.2 C1623.6,131.9 1621.2,131.9 1620,132.8 C1618.8,133.7 1617.8,135 1617.7,136.7 C1617.5,138.4 1618.4,141.3 1619.2,143 C1620,144.7 1622,145.2 1622.3,146.9 C1622.7,148.6 1623,151 1621.6,153.1 C1620.1,155.2 1617,156.8 1613.8,159.4 C1610.5,162 1604.8,166.8 1602,168.8 C1599.3,170.7 1598.6,171.1 1597.3,170.9 C1596.1,170.8 1595.1,168.5 1594.6,168" fill="none" stroke="#0b0b7e" stroke-width="1.3" stroke-linecap="round"/>
<circle cx="1320.6" cy="298.8" r="41.3" fill="#2229a1"/>
<g transform="translate(1320.6,298.8)">
<path d="M-19.1,18 C-18.2,16.3 -15.3,11.5 -13.6,7.7 C-12,3.8 -10.3,-1.1 -9,-5.1 C-7.8,-9 -6.9,-13.5 -6.2,-16.2 C-5.5,-18.8 -5.3,-20 -5,-21 C-4.6,-22.1 -4.5,-22.4 -4.3,-22.4 C-4.1,-22.4 -4,-22.1 -3.6,-21 C-3.3,-20 -3,-18.8 -2.4,-16.2 C-1.7,-13.5 -0.8,-9 0.5,-5.1 C1.7,-1.1 3.4,3.8 5.1,7.7 C6.7,11.5 9.6,16.3 10.5,18Z" fill="#a0a3d7"/><path d="M-3.5,18 C-2.6,16.2 0.1,11.3 1.7,7.4 C3.3,3.4 4.9,-1.7 6,-5.8 C7.2,-9.9 8.1,-14.5 8.7,-17.2 C9.4,-20 9.6,-21.1 9.9,-22.2 C10.2,-23.3 10.3,-23.7 10.5,-23.7 C10.8,-23.7 11,-23.3 11.3,-22.2 C11.7,-21.1 12,-20 12.8,-17.2 C13.6,-14.5 14.7,-9.9 16.1,-5.8 C17.5,-1.7 19.5,3.4 21.5,7.4 C23.4,11.3 26.8,16.2 27.9,18Z" fill="#b3b5e0"/>
<defs><clipPath id="cpk"><path d="M-19.1,18 C-18.2,16.3 -15.3,11.5 -13.6,7.7 C-12,3.8 -10.3,-1.1 -9,-5.1 C-7.8,-9 -6.9,-13.5 -6.2,-16.2 C-5.5,-18.8 -5.3,-20 -5,-21 C-4.6,-22.1 -4.5,-22.4 -4.3,-22.4 C-4.1,-22.4 -4,-22.1 -3.6,-21 C-3.3,-20 -3,-18.8 -2.4,-16.2 C-1.7,-13.5 -0.8,-9 0.5,-5.1 C1.7,-1.1 3.4,3.8 5.1,7.7 C6.7,11.5 9.6,16.3 10.5,18Z"/></clipPath></defs>
<path d="M-3.5,18 C-2.6,16.2 0.1,11.3 1.7,7.4 C3.3,3.4 4.9,-1.7 6,-5.8 C7.2,-9.9 8.1,-14.5 8.7,-17.2 C9.4,-20 9.6,-21.1 9.9,-22.2 C10.2,-23.3 10.3,-23.7 10.5,-23.7 C10.8,-23.7 11,-23.3 11.3,-22.2 C11.7,-21.1 12,-20 12.8,-17.2 C13.6,-14.5 14.7,-9.9 16.1,-5.8 C17.5,-1.7 19.5,3.4 21.5,7.4 C23.4,11.3 26.8,16.2 27.9,18Z" fill="#d0d1eb" clip-path="url(#cpk)"/>
<path d="M-19.1,18 C-18.2,16.3 -15.3,11.5 -13.6,7.7 C-12,3.8 -10.3,-1.1 -9,-5.1 C-7.8,-9 -6.9,-13.5 -6.2,-16.2 C-5.5,-18.8 -5.3,-20 -5,-21 C-4.6,-22.1 -4.5,-22.4 -4.3,-22.4 C-4.1,-22.4 -4,-22.1 -3.6,-21 C-3.3,-20 -3,-18.8 -2.4,-16.2 C-1.7,-13.5 -0.8,-9 0.5,-5.1 C1.7,-1.1 3.4,3.8 5.1,7.7 C6.7,11.5 9.6,16.3 10.5,18" fill="none" stroke="#fff" stroke-width="2.6" stroke-linejoin="round"/><path d="M-3.5,18 C-2.6,16.2 0.1,11.3 1.7,7.4 C3.3,3.4 4.9,-1.7 6,-5.8 C7.2,-9.9 8.1,-14.5 8.7,-17.2 C9.4,-20 9.6,-21.1 9.9,-22.2 C10.2,-23.3 10.3,-23.7 10.5,-23.7 C10.8,-23.7 11,-23.3 11.3,-22.2 C11.7,-21.1 12,-20 12.8,-17.2 C13.6,-14.5 14.7,-9.9 16.1,-5.8 C17.5,-1.7 19.5,3.4 21.5,7.4 C23.4,11.3 26.8,16.2 27.9,18" fill="none" stroke="#fff" stroke-width="2.6" stroke-linejoin="round"/>
<path d="M-22.7,-24.6 L-22.7,19.15 L28.5,19.15" fill="none" stroke="#fff" stroke-width="3.1"/>
</g>
<circle cx="1471.2" cy="300" r="41.3" fill="#2229a1"/>
<g transform="translate(1471.2,300)" fill="none" stroke="#fff" stroke-width="2.1" stroke-linejoin="round" stroke-linecap="round">
<path d="M-5.2,-14.2 C-5.8,-15 -8,-15.2 -9.8,-14.7 C-11.5,-14.2 -14.9,-12.4 -16.8,-10.9 C-18.7,-9.4 -21,-6.8 -22.3,-4.7 C-23.5,-2.6 -24.7,0.5 -25.2,3.1 C-25.8,5.7 -25.9,10.1 -25.7,12.5 C-25.5,14.9 -24.8,18 -23.7,19.4 C-22.6,20.7 -20.3,21.2 -18.4,21.4 C-16.4,21.6 -12.4,21.1 -10.5,20.7 C-8.7,20.3 -6.8,19.6 -5.9,18.8 C-4.9,17.9 -4.5,17 -4.3,14.8 C-4.1,12.7 -4.1,7.4 -4.2,4.7 C-4.4,2 -4.9,-1 -5.2,-3.1 C-5.5,-5.2 -6.2,-7.7 -6.2,-9.4 C-6.2,-11 -4.7,-13.4 -5.2,-14.2Z"/>
<path d="M3.7,-15.1 C4.5,-15.4 6.6,-15.1 8.2,-14.4 C9.8,-13.6 12.6,-11.8 14.5,-10.2 C16.3,-8.5 19.1,-5.6 20.7,-3.1 C22.3,-0.7 24.1,3.6 24.9,6.2 C25.7,8.9 26.2,12.7 26.2,14.8 C26.2,17 25.8,19.5 25,20.6 C24.2,21.8 22.8,22.3 20.7,22.6 C18.7,22.8 13.9,22.4 11.3,22.3 C8.8,22.1 5.1,22 3.5,21.5 C2,21 1.4,20.6 0.9,18.8 C0.5,16.9 0.6,12.1 0.5,9.4 C0.3,6.7 0,3.1 0.1,0.8 C0.1,-1.6 0.5,-4.3 0.9,-6.2 C1.2,-8.2 2.2,-10.8 2.6,-12.1 C3,-13.4 2.8,-14.7 3.7,-15.1Z"/>
<path d="M-4.4,-14.5 L-4.4,-24.7 A3.05,3.05 0 0 1 1.7,-24.7 L1.7,-14.5"/>
<path d="M-4.3,-13.4 L-2,-8.2 L1.3,-13.4 M-2,-8.2 L-1.8,0" stroke-width="1.9"/>
</g>
<circle cx="1621.7" cy="299" r="41.3" fill="#2229a1"/>
<g transform="translate(1621.7,299)">
<path d="M2.4,-10.4 C3.4,-9.4 6.7,-6.4 8,-4.3 C9.3,-2.2 9.8,-0.3 10.2,2 C10.6,4.2 10.6,6.6 10.4,9 C10.2,11.4 9.1,15 8.8,16.2 L-3.2,16.2 C-2.2,15.6 1.2,14.3 2.6,12.9 C4,11.4 4.9,9.4 5.3,7.4 C5.7,5.5 5.6,3 5.2,1.2 C4.7,-0.6 3.7,-2.3 2.7,-3.4 C1.8,-4.4 -0.1,-4.8 -0.7,-5.1Z" fill="#fff"/>
<path d="M-15,22.3 L-15,17.6 Q-15,16.1 -13.5,16.1 L15.9,16.1 Q17.4,16.1 17.4,17.6 L17.4,22.3Z" fill="#fff"/>
<g transform="translate(-12,3.1) rotate(20.4)" fill="#fff">
<rect x="-7.6" y="-1.5" width="15.2" height="3" rx="0.6"/>
<rect x="-5.4" y="-24" width="10.8" height="21.6" rx="0.8"/>
<rect x="-2.9" y="-30.6" width="5.8" height="6"/>
<rect x="-3.6" y="-31.2" width="7.2" height="2.6" rx="0.6"/>
<rect x="-5.3" y="2.6" width="3.2" height="3.2"/>
<rect x="0.4" y="2.6" width="3.2" height="3.2"/>
</g>
<circle cx="-0.4" cy="-8.6" r="4.2" fill="#2229a1"/><circle cx="-0.4" cy="-8.6" r="2.8" fill="#fff"/>
</g>
<circle cx="1470.9" cy="503.9" r="41.3" fill="#2229a1"/>
<g transform="translate(1470.9,503.9)">
<path d="M2.4,-10.4 C3.4,-9.4 6.7,-6.4 8,-4.3 C9.3,-2.2 9.8,-0.3 10.2,2 C10.6,4.2 10.6,6.6 10.4,9 C10.2,11.4 9.1,15 8.8,16.2 L-3.2,16.2 C-2.2,15.6 1.2,14.3 2.6,12.9 C4,11.4 4.9,9.4 5.3,7.4 C5.7,5.5 5.6,3 5.2,1.2 C4.7,-0.6 3.7,-2.3 2.7,-3.4 C1.8,-4.4 -0.1,-4.8 -0.7,-5.1Z" fill="#fff"/>
<path d="M-15,22.3 L-15,17.6 Q-15,16.1 -13.5,16.1 L15.9,16.1 Q17.4,16.1 17.4,17.6 L17.4,22.3Z" fill="#fff"/>
<g transform="translate(-12,3.1) rotate(20.4)" fill="#fff">
<rect x="-7.6" y="-1.5" width="15.2" height="3" rx="0.6"/>
<rect x="-5.4" y="-24" width="10.8" height="21.6" rx="0.8"/>
<rect x="-2.9" y="-30.6" width="5.8" height="6"/>
<rect x="-3.6" y="-31.2" width="7.2" height="2.6" rx="0.6"/>
<rect x="-5.3" y="2.6" width="3.2" height="3.2"/>
<rect x="0.4" y="2.6" width="3.2" height="3.2"/>
</g>
<circle cx="-0.4" cy="-8.6" r="4.2" fill="#2229a1"/><circle cx="-0.4" cy="-8.6" r="2.8" fill="#fff"/>
</g>
<circle cx="1621.4" cy="503.9" r="41.3" fill="#2229a1"/>
<g transform="translate(1621.4,503.9)">
<path d="M2.4,-10.4 C3.4,-9.4 6.7,-6.4 8,-4.3 C9.3,-2.2 9.8,-0.3 10.2,2 C10.6,4.2 10.6,6.6 10.4,9 C10.2,11.4 9.1,15 8.8,16.2 L-3.2,16.2 C-2.2,15.6 1.2,14.3 2.6,12.9 C4,11.4 4.9,9.4 5.3,7.4 C5.7,5.5 5.6,3 5.2,1.2 C4.7,-0.6 3.7,-2.3 2.7,-3.4 C1.8,-4.4 -0.1,-4.8 -0.7,-5.1Z" fill="#fff"/>
<path d="M-15,22.3 L-15,17.6 Q-15,16.1 -13.5,16.1 L15.9,16.1 Q17.4,16.1 17.4,17.6 L17.4,22.3Z" fill="#fff"/>
<g transform="translate(-12,3.1) rotate(20.4)" fill="#fff">
<rect x="-7.6" y="-1.5" width="15.2" height="3" rx="0.6"/>
<rect x="-5.4" y="-24" width="10.8" height="21.6" rx="0.8"/>
<rect x="-2.9" y="-30.6" width="5.8" height="6"/>
<rect x="-3.6" y="-31.2" width="7.2" height="2.6" rx="0.6"/>
<rect x="-5.3" y="2.6" width="3.2" height="3.2"/>
<rect x="0.4" y="2.6" width="3.2" height="3.2"/>
</g>
<circle cx="-0.4" cy="-8.6" r="4.2" fill="#2229a1"/><circle cx="-0.4" cy="-8.6" r="2.8" fill="#fff"/>
</g>
<circle cx="1763.4" cy="299.2" r="41.3" fill="#2229a1"/>
<g transform="translate(1763.4,299.2)" fill="none" stroke="#fff" stroke-linecap="round">
<path d="M-11.6,-7.4 L-3.7,-10.8" stroke-width="2.3"/>
<path d="M-12.9,0.8 L4.5,-6.6" stroke-width="2.3"/>
<path d="M-11.7,9.2 L13,-1.7" stroke-width="2.3"/>
<path d="M-9,16.8 L17.7,4.7" stroke-width="2.3"/>
<path d="M-7,-26.8 C-7.5,-25.7 -8.7,-22.8 -9.8,-20.3 C-10.8,-17.8 -12.4,-14.5 -13.2,-11.7 C-14,-9 -14.6,-6.8 -14.8,-3.9 C-14.9,-1 -14.6,2.3 -14,5.5 C-13.4,8.6 -12.3,11.9 -11.3,14.8 C-10.4,17.8 -8.7,21.9 -8.2,23.3" stroke-width="3.6"/>
<path d="M-24,-17.5 C-22.7,-17.3 -18.9,-16.6 -16,-16 C-13.1,-15.4 -9.8,-14.9 -6.6,-13.9 C-3.5,-12.9 -0.4,-11.8 2.7,-10 C5.9,-8.2 9.2,-5.4 12.1,-3.1 C15,-0.8 17.6,1.8 19.9,3.9 C22.2,6 25,8.6 26,9.5" stroke-width="3.8"/>
</g>
<circle cx="1763.4" cy="503.8" r="41.3" fill="#2229a1"/>
<g transform="translate(1763.4,503.8)" fill="#fff">
<rect x="-5.3" y="-29.3" width="5.4" height="33.8" rx="2"/>
<rect x="1" y="-29.3" width="5.2" height="33.8" rx="2"/>
<g transform="translate(-5.2,6.5) rotate(45)">
<rect x="-3.6" y="0" width="3" height="8" rx="1.4"/><rect x="-3.6" y="8.8" width="3" height="8" rx="1.4"/>
<rect x="0.6" y="0" width="3" height="8" rx="1.4"/><rect x="0.6" y="8.8" width="3" height="8" rx="1.4"/>
</g>
<g transform="translate(5.2,6.5) rotate(-45)">
<rect x="-3.6" y="0" width="3" height="8" rx="1.4"/><rect x="-3.6" y="8.8" width="3" height="8" rx="1.4"/>
<rect x="0.6" y="0" width="3" height="8" rx="1.4"/><rect x="0.6" y="8.8" width="3" height="8" rx="1.4"/>
</g>
<path d="M0.8,19.9 L-9.9,32.8 L11.6,32.8Z"/>
</g>
<path d="M624.1,506.3 L633.1,506.3 L633.1,515.3 L721.4,515.3 L721.4,506.3 L730.8,506.3 L730.8,534.1 L624.1,534.1Z" fill="#aebdea"/>
<rect x="635.3" y="502.4" width="8.8" height="11.3" fill="#fbf3f3" stroke="#8a7a7a" stroke-width="0.5"/>
<circle cx="639.7" cy="509.2" r="2.5" fill="#f0d4d4" stroke="#7b4a4a" stroke-width="0.9"/>
<rect x="644.7" y="502.4" width="8.8" height="11.3" fill="#fbf3f3" stroke="#8a7a7a" stroke-width="0.5"/>
<circle cx="649.1" cy="509.2" r="2.5" fill="#f0d4d4" stroke="#7b4a4a" stroke-width="0.9"/>
<rect x="654.1" y="502.4" width="8.8" height="11.3" fill="#fbf3f3" stroke="#8a7a7a" stroke-width="0.5"/>
<circle cx="658.4" cy="509.2" r="2.5" fill="#f0d4d4" stroke="#7b4a4a" stroke-width="0.9"/>
<rect x="663.4" y="502.4" width="8.8" height="11.3" fill="#fbf3f3" stroke="#8a7a7a" stroke-width="0.5"/>
<circle cx="667.8" cy="509.2" r="2.5" fill="#f0d4d4" stroke="#7b4a4a" stroke-width="0.9"/>
<rect x="672.8" y="502.4" width="8.8" height="11.3" fill="#fbf3f3" stroke="#8a7a7a" stroke-width="0.5"/>
<circle cx="677.2" cy="509.2" r="2.5" fill="#f0d4d4" stroke="#7b4a4a" stroke-width="0.9"/>
<rect x="682.2" y="502.4" width="8.8" height="11.3" fill="#fbf3f3" stroke="#8a7a7a" stroke-width="0.5"/>
<circle cx="686.6" cy="509.2" r="2.5" fill="#f0d4d4" stroke="#7b4a4a" stroke-width="0.9"/>
<rect x="691.6" y="502.4" width="8.8" height="11.3" fill="#fbf3f3" stroke="#8a7a7a" stroke-width="0.5"/>
<circle cx="695.9" cy="509.2" r="2.5" fill="#f0d4d4" stroke="#7b4a4a" stroke-width="0.9"/>
<rect x="700.9" y="502.4" width="8.8" height="11.3" fill="#fbf3f3" stroke="#8a7a7a" stroke-width="0.5"/>
<circle cx="705.3" cy="509.2" r="2.5" fill="#f0d4d4" stroke="#7b4a4a" stroke-width="0.9"/>
<rect x="710.3" y="502.4" width="8.8" height="11.3" fill="#fbf3f3" stroke="#8a7a7a" stroke-width="0.5"/>
<circle cx="714.7" cy="509.2" r="2.5" fill="#f0d4d4" stroke="#7b4a4a" stroke-width="0.9"/>
<rect x="644.1" y="500.5" width="4.7" height="0.9" fill="#333"/>
<rect x="655.8" y="500.5" width="7.8" height="0.9" fill="#333"/>
<rect x="673" y="500.5" width="8.6" height="0.9" fill="#333"/>
<rect x="691.7" y="500.5" width="4.7" height="0.9" fill="#333"/>
<rect x="704.2" y="500.5" width="6.2" height="0.9" fill="#333"/>
<path d="M623.4,477.4 L623.4,534.8 L731.6,534.8 L731.6,477.4" fill="none" stroke="#0b0b7e" stroke-width="1.5"/>
<path d="M618.4,477.4 L634.1,477.4 L634.1,514.5 L720.6,514.5 L720.6,477.4 L736.9,477.4" fill="none" stroke="#0b0b7e" stroke-width="2.4" stroke-linecap="round" stroke-linejoin="miter"/>
<path d="M640.5,468 C640.4,468.8 639.3,470.8 639.8,472.3 C640.2,473.8 641.8,476.1 643.3,477 C644.8,477.9 647.3,477 648.8,477.8 C650.2,478.7 650.3,481.1 651.9,482.1 C653.4,483.2 656,484.3 658.1,484.1 C660.2,483.9 662.9,482.4 664.4,480.9 C665.8,479.5 666.6,477.1 666.9,475.5 C667.2,473.9 665.3,472.4 666.1,471.4 C666.8,470.4 670.1,470.5 671.4,469.2 C672.7,467.9 673.8,465.6 673.9,463.8 C674.1,461.9 673.4,459.6 672.3,458.3 C671.3,456.9 668.4,456 667.7,455.5" fill="none" stroke="#0b0b7e" stroke-width="2.7" stroke-linecap="round" stroke-linejoin="round"/>
<path d="M642.5,455.5 L648.8,469.2 M648.8,452 L661.2,459.8" fill="none" stroke="#0b0b7e" stroke-width="2.7" stroke-linecap="round"/>
<g transform="translate(187.9,750)">
<path d="M1.6,11.1 C2.1,10.7 1.4,9 2.1,8.6 C2.7,8.3 5.7,8.3 6.3,8.6 C6.9,9 6.5,9.2 6.6,11.2 C6.6,13.3 6.6,20 6.7,23.4 C6.9,26.9 7.1,34 7.5,36.1 C7.9,38.2 8.9,38.4 9.4,38.4 C9.9,38.5 10.7,38.3 11.1,36.4 C11.4,34.4 11.5,26.7 11.9,24.6 C12.3,22.5 13,21.9 13.8,21.4 C14.6,20.8 15.9,20.2 17.5,20.6 C19.2,21 23.1,22.7 25.5,24.2 C27.9,25.6 32.2,28.4 34.9,30.9 C37.5,33.5 41.9,38.6 44.2,42.2 C46.6,45.7 50,51.9 51.7,56.2 C53.5,60.6 55.6,68.5 56.4,73.1 C57.3,77.7 57.9,84.9 57.9,89.1 C58,93.3 57.4,100.1 56.6,103.1 C55.8,106.1 53.8,109.3 52.2,110.6 C50.6,112 47.8,112.9 45.4,112.7 C42.9,112.4 38.3,110.8 34.9,108.9 C31.4,107.1 23.8,102.1 20.8,99.6 C17.8,97.1 14.8,93.5 13.3,91.1 C11.9,88.7 11,85.4 10.5,82.5 C10,79.6 10,73.2 9.6,70.3 C9.2,67.4 8.4,63.8 7.7,62.1 C6.9,60.3 5.2,58.6 4.1,57.7 C3,56.9 1.2,56.2 0,56.2 C-1.2,56.2 -3,56.9 -4.1,57.7 C-5.2,58.6 -6.9,60.3 -7.7,62.1 C-8.4,63.8 -9.2,67.4 -9.6,70.3 C-10,73.2 -10,79.6 -10.5,82.5 C-11,85.4 -11.9,88.7 -13.3,91.1 C-14.8,93.5 -17.8,97.1 -20.8,99.6 C-23.8,102.1 -31.4,107.1 -34.9,108.9 C-38.3,110.8 -42.9,112.4 -45.4,112.7 C-47.8,112.9 -50.6,112 -52.2,110.6 C-53.8,109.3 -55.8,106.1 -56.6,103.1 C-57.4,100.1 -58,93.3 -57.9,89.1 C-57.9,84.9 -57.3,77.7 -56.4,73.1 C-55.6,68.5 -53.5,60.6 -51.7,56.2 C-50,51.9 -46.6,45.7 -44.2,42.2 C-41.9,38.6 -37.5,33.5 -34.9,30.9 C-32.2,28.4 -27.9,25.6 -25.5,24.2 C-23.1,22.7 -19.2,21 -17.5,20.6 C-15.9,20.2 -14.6,20.8 -13.8,21.4 C-13,21.9 -12.3,22.5 -11.9,24.6 C-11.5,26.7 -11.4,34.4 -11.1,36.4 C-10.7,38.3 -9.9,38.5 -9.4,38.4 C-8.9,38.4 -7.9,38.2 -7.5,36.1 C-7.1,34 -6.9,26.9 -6.7,23.4 C-6.6,20 -6.6,13.3 -6.6,11.2 C-6.5,9.2 -6.9,9 -6.3,8.6 C-5.7,8.3 -2.7,8.3 -2.1,8.6 C-1.4,9 -2.1,10.7 -1.6,11.1 C-1.1,11.4 1.1,11.4 1.6,11.1Z" fill="#9b95da" stroke="#3a3a5a" stroke-width="1.1" stroke-linejoin="round"/>
<path d="M0,36.1 L0,42.7 Q2.1,45.9 7.7,47.8 L17.1,51.1 M0,36.1 L0,42.7 Q-2.1,45.9 -7.7,47.8 L-17.1,51.1 M17.1,51.1 Q21.7,48.7 25.5,41.2 M-17.1,51.1 Q-21.7,48.7 -25.5,41.2 M17.1,51.1 Q30.2,50.6 42.8,55.8 M-17.1,51.1 Q-30.2,50.6 -42.8,55.8 M18,51.6 L18,64.7 M-18,51.6 L-18,64.7 M24.6,52.7 Q33,60.9 36.7,71.2 Q39.6,77.8 42.8,81.6 M-24.6,52.7 Q-33,60.9 -36.7,71.2 Q-39.6,77.8 -42.8,81.6 M32.5,64.7 Q29.2,70.3 27.6,75.9 M-32.5,64.7 Q-29.2,70.3 -27.6,75.9" fill="none" stroke="#3a3a5a" stroke-width="5.6" stroke-linecap="round" stroke-linejoin="round"/>
<path d="M0,36.1 L0,42.7 Q2.1,45.9 7.7,47.8 L17.1,51.1 M0,36.1 L0,42.7 Q-2.1,45.9 -7.7,47.8 L-17.1,51.1 M17.1,51.1 Q21.7,48.7 25.5,41.2 M-17.1,51.1 Q-21.7,48.7 -25.5,41.2 M17.1,51.1 Q30.2,50.6 42.8,55.8 M-17.1,51.1 Q-30.2,50.6 -42.8,55.8 M18,51.6 L18,64.7 M-18,51.6 L-18,64.7 M24.6,52.7 Q33,60.9 36.7,71.2 Q39.6,77.8 42.8,81.6 M-24.6,52.7 Q-33,60.9 -36.7,71.2 Q-39.6,77.8 -42.8,81.6 M32.5,64.7 Q29.2,70.3 27.6,75.9 M-32.5,64.7 Q-29.2,70.3 -27.6,75.9" fill="none" stroke="#e6eafa" stroke-width="3.6" stroke-linecap="round" stroke-linejoin="round"/>
<rect x="-2" y="14.5" width="4" height="1.9" rx="0.7" fill="#9a98c0" stroke="#3a3a5a" stroke-width="0.7"/>
<rect x="-2" y="19.9" width="4" height="1.9" rx="0.7" fill="#9a98c0" stroke="#3a3a5a" stroke-width="0.7"/>
<rect x="-2" y="25.2" width="4" height="1.9" rx="0.7" fill="#9a98c0" stroke="#3a3a5a" stroke-width="0.7"/>
<rect x="-2" y="30.6" width="4" height="1.9" rx="0.7" fill="#9a98c0" stroke="#3a3a5a" stroke-width="0.7"/>
</g>
<g transform="translate(187.9,943.5)">
<path d="M1.6,11.1 C2.1,10.7 1.4,9 2.1,8.6 C2.7,8.3 5.7,8.3 6.3,8.6 C6.9,9 6.5,9.2 6.6,11.2 C6.6,13.3 6.6,20 6.7,23.4 C6.9,26.9 7.1,34 7.5,36.1 C7.9,38.2 8.9,38.4 9.4,38.4 C9.9,38.5 10.7,38.3 11.1,36.4 C11.4,34.4 11.5,26.7 11.9,24.6 C12.3,22.5 13,21.9 13.8,21.4 C14.6,20.8 15.9,20.2 17.5,20.6 C19.2,21 23.1,22.7 25.5,24.2 C27.9,25.6 32.2,28.4 34.9,30.9 C37.5,33.5 41.9,38.6 44.2,42.2 C46.6,45.7 50,51.9 51.7,56.2 C53.5,60.6 55.6,68.5 56.4,73.1 C57.3,77.7 57.9,84.9 57.9,89.1 C58,93.3 57.4,100.1 56.6,103.1 C55.8,106.1 53.8,109.3 52.2,110.6 C50.6,112 47.8,112.9 45.4,112.7 C42.9,112.4 38.3,110.8 34.9,108.9 C31.4,107.1 23.8,102.1 20.8,99.6 C17.8,97.1 14.8,93.5 13.3,91.1 C11.9,88.7 11,85.4 10.5,82.5 C10,79.6 10,73.2 9.6,70.3 C9.2,67.4 8.4,63.8 7.7,62.1 C6.9,60.3 5.2,58.6 4.1,57.7 C3,56.9 1.2,56.2 0,56.2 C-1.2,56.2 -3,56.9 -4.1,57.7 C-5.2,58.6 -6.9,60.3 -7.7,62.1 C-8.4,63.8 -9.2,67.4 -9.6,70.3 C-10,73.2 -10,79.6 -10.5,82.5 C-11,85.4 -11.9,88.7 -13.3,91.1 C-14.8,93.5 -17.8,97.1 -20.8,99.6 C-23.8,102.1 -31.4,107.1 -34.9,108.9 C-38.3,110.8 -42.9,112.4 -45.4,112.7 C-47.8,112.9 -50.6,112 -52.2,110.6 C-53.8,109.3 -55.8,106.1 -56.6,103.1 C-57.4,100.1 -58,93.3 -57.9,89.1 C-57.9,84.9 -57.3,77.7 -56.4,73.1 C-55.6,68.5 -53.5,60.6 -51.7,56.2 C-50,51.9 -46.6,45.7 -44.2,42.2 C-41.9,38.6 -37.5,33.5 -34.9,30.9 C-32.2,28.4 -27.9,25.6 -25.5,24.2 C-23.1,22.7 -19.2,21 -17.5,20.6 C-15.9,20.2 -14.6,20.8 -13.8,21.4 C-13,21.9 -12.3,22.5 -11.9,24.6 C-11.5,26.7 -11.4,34.4 -11.1,36.4 C-10.7,38.3 -9.9,38.5 -9.4,38.4 C-8.9,38.4 -7.9,38.2 -7.5,36.1 C-7.1,34 -6.9,26.9 -6.7,23.4 C-6.6,20 -6.6,13.3 -6.6,11.2 C-6.5,9.2 -6.9,9 -6.3,8.6 C-5.7,8.3 -2.7,8.3 -2.1,8.6 C-1.4,9 -2.1,10.7 -1.6,11.1 C-1.1,11.4 1.1,11.4 1.6,11.1Z" fill="#e9601a" stroke="#5a2a10" stroke-width="1.1" stroke-linejoin="round"/>
<path d="M0,36.1 L0,42.7 Q2.1,45.9 7.7,47.8 L17.1,51.1 M0,36.1 L0,42.7 Q-2.1,45.9 -7.7,47.8 L-17.1,51.1 M17.1,51.1 Q21.7,48.7 25.5,41.2 M-17.1,51.1 Q-21.7,48.7 -25.5,41.2 M17.1,51.1 Q30.2,50.6 42.8,55.8 M-17.1,51.1 Q-30.2,50.6 -42.8,55.8 M18,51.6 L18,64.7 M-18,51.6 L-18,64.7 M24.6,52.7 Q33,60.9 36.7,71.2 Q39.6,77.8 42.8,81.6 M-24.6,52.7 Q-33,60.9 -36.7,71.2 Q-39.6,77.8 -42.8,81.6 M32.5,64.7 Q29.2,70.3 27.6,75.9 M-32.5,64.7 Q-29.2,70.3 -27.6,75.9" fill="none" stroke="#5a2a10" stroke-width="5.6" stroke-linecap="round" stroke-linejoin="round"/>
<path d="M0,36.1 L0,42.7 Q2.1,45.9 7.7,47.8 L17.1,51.1 M0,36.1 L0,42.7 Q-2.1,45.9 -7.7,47.8 L-17.1,51.1 M17.1,51.1 Q21.7,48.7 25.5,41.2 M-17.1,51.1 Q-21.7,48.7 -25.5,41.2 M17.1,51.1 Q30.2,50.6 42.8,55.8 M-17.1,51.1 Q-30.2,50.6 -42.8,55.8 M18,51.6 L18,64.7 M-18,51.6 L-18,64.7 M24.6,52.7 Q33,60.9 36.7,71.2 Q39.6,77.8 42.8,81.6 M-24.6,52.7 Q-33,60.9 -36.7,71.2 Q-39.6,77.8 -42.8,81.6 M32.5,64.7 Q29.2,70.3 27.6,75.9 M-32.5,64.7 Q-29.2,70.3 -27.6,75.9" fill="none" stroke="#e6eafa" stroke-width="3.6" stroke-linecap="round" stroke-linejoin="round"/>
<rect x="-2" y="14.5" width="4" height="1.9" rx="0.7" fill="#9a98c0" stroke="#5a2a10" stroke-width="0.7"/>
<rect x="-2" y="19.9" width="4" height="1.9" rx="0.7" fill="#9a98c0" stroke="#5a2a10" stroke-width="0.7"/>
<rect x="-2" y="25.2" width="4" height="1.9" rx="0.7" fill="#9a98c0" stroke="#5a2a10" stroke-width="0.7"/>
<rect x="-2" y="30.6" width="4" height="1.9" rx="0.7" fill="#9a98c0" stroke="#5a2a10" stroke-width="0.7"/>
</g>
</svg>
</body></html>
